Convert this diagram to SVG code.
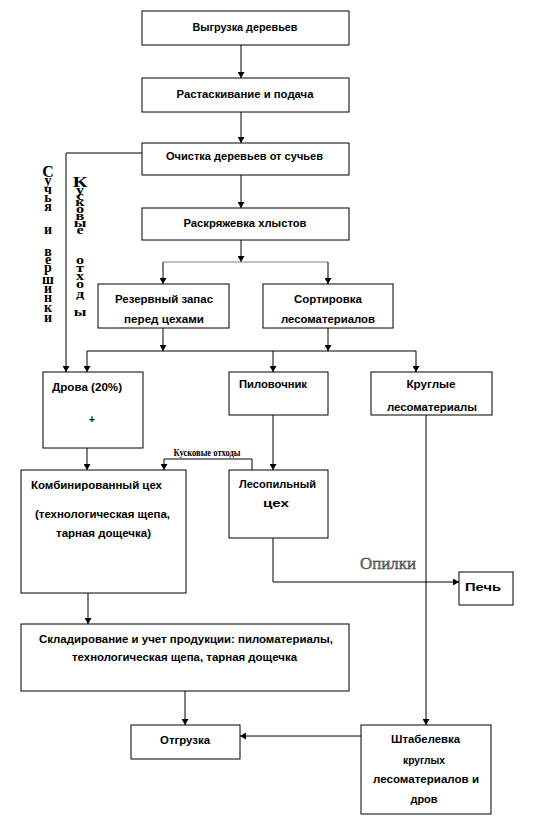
<svg xmlns="http://www.w3.org/2000/svg" width="536" height="820" viewBox="0 0 536 820">
<defs>
<marker id="arr" markerWidth="6" markerHeight="7" refX="6" refY="3.5" orient="auto" markerUnits="userSpaceOnUse">
<path d="M0,0 L6,3.5 L0,7 z" fill="#000"/>
</marker>
<style>
.box{fill:#fff;stroke:#000;stroke-width:1}
.t{font-family:"Liberation Sans",Arial,sans-serif;font-weight:bold;font-size:10px;fill:#000;text-anchor:middle}
.tl{font-family:"Liberation Sans",Arial,sans-serif;font-weight:bold;font-size:10px;fill:#000}
.ln{fill:none;stroke:#000;stroke-width:1}
.gr{fill:none;stroke:#808080;stroke-width:1.2}
.vt{font-family:"Liberation Serif","Times New Roman",serif;font-weight:bold;font-size:14px;fill:#000;text-anchor:middle}
.vk{font-family:"Liberation Serif","Times New Roman",serif;font-weight:bold;font-size:12px;fill:#000;text-anchor:middle}
</style>
</defs>
<rect width="536" height="820" fill="#fff"/>

<g id="connectors">
<path class="ln" d="M241,45 V78" marker-end="url(#arr)"/>
<path class="ln" d="M241,112 V143" marker-end="url(#arr)"/>
<path class="ln" d="M142,153 H66 V372" marker-end="url(#arr)"/>
<path class="ln" d="M241,175 V208" marker-end="url(#arr)"/>
<path class="ln" d="M241,240 V262" marker-end="url(#arr)"/>
<path class="gr" d="M163,262 H328"/>
<path class="ln" d="M163,262 V284" marker-end="url(#arr)"/>
<path class="ln" d="M328,262 V284" marker-end="url(#arr)"/>
<path class="ln" d="M163,328 V351" marker-end="url(#arr)"/>
<path class="ln" d="M328,328 V351" marker-end="url(#arr)"/>
<path class="ln" d="M87,351 H416"/>
<path class="ln" d="M87,351 V372" marker-end="url(#arr)"/>
<path class="ln" d="M273,351 V372" marker-end="url(#arr)"/>
<path class="ln" d="M416,351 V372" marker-end="url(#arr)"/>
<path class="ln" d="M87,448 V470" marker-end="url(#arr)"/>
<path class="ln" d="M252,470 V459 H164 V470" stroke="#333" marker-end="url(#arr)"/>
<text x="207" y="456" font-family="'Liberation Serif','Times New Roman',serif" font-weight="bold" font-size="10" text-anchor="middle" textLength="67" lengthAdjust="spacingAndGlyphs">Кусковые отходы</text>
<path class="ln" d="M273,415 V470" marker-end="url(#arr)"/>
<path class="ln" d="M426,415 V725" marker-end="url(#arr)"/>
<path class="ln" d="M273,538 V582 H459" stroke="#555" marker-end="url(#arr)"/>
<text x="388" y="569" font-family="'Liberation Serif','Times New Roman',serif" font-size="16" fill="#777" stroke="#333" stroke-width="0.4" text-anchor="middle" textLength="56" lengthAdjust="spacingAndGlyphs">Опилки</text>
<path class="ln" d="M88,593 V624" marker-end="url(#arr)"/>
<path class="ln" d="M185,691 V725" marker-end="url(#arr)"/>
<path class="ln" d="M361,736 H240" stroke="#444" marker-end="url(#arr)"/>
</g>

<g id="label-suchya">
<text class="vt"><tspan x="48" y="177" font-size="16">С</tspan><tspan x="48" y="185">у</tspan><tspan x="48" y="194">ч</tspan><tspan x="48" y="202">ь</tspan><tspan x="48" y="211">я</tspan><tspan x="48" y="234">и</tspan><tspan x="48" y="256">в</tspan><tspan x="48" y="264">е</tspan><tspan x="48" y="272">р</tspan><tspan x="48" y="284">ш</tspan><tspan x="48" y="293">и</tspan><tspan x="48" y="302">н</tspan><tspan x="48" y="312">к</tspan><tspan x="48" y="322">и</tspan></text>
</g>
<g id="label-kuskovye" transform="translate(80 0) scale(1.35 1) translate(-80 0)">
<text class="vk"><tspan x="80" y="187" font-size="15">К</tspan><tspan x="80" y="194">у</tspan><tspan x="80" y="200">с</tspan><tspan x="80" y="206">к</tspan><tspan x="80" y="213">о</tspan><tspan x="80" y="220">в</tspan><tspan x="80" y="227">ы</tspan><tspan x="80" y="234">е</tspan><tspan x="80" y="264">о</tspan><tspan x="80" y="272">т</tspan><tspan x="80" y="280">х</tspan><tspan x="80" y="288">о</tspan><tspan x="80" y="298">д</tspan><tspan x="80" y="316">ы</tspan></text>
</g>

<g id="n1"><rect class="box" x="142" y="11" width="207" height="34"/><text class="t" x="245" y="31" textLength="105" lengthAdjust="spacingAndGlyphs">Выгрузка деревьев</text></g>
<g id="n2"><rect class="box" x="142" y="78" width="207" height="34"/><text class="t" x="245" y="98" textLength="137" lengthAdjust="spacingAndGlyphs">Растаскивание и подача</text></g>
<g id="n3"><rect class="box" x="142" y="143" width="207" height="32"/><text class="t" x="244.5" y="160" textLength="157" lengthAdjust="spacingAndGlyphs">Очистка деревьев  от сучьев</text></g>
<g id="n4"><rect class="box" x="142" y="208" width="207" height="32"/><text class="t" x="245" y="227" textLength="123" lengthAdjust="spacingAndGlyphs">Раскряжевка хлыстов</text></g>
<g id="n5"><rect class="box" x="98" y="284" width="131" height="44"/><text class="t" x="164" y="303" textLength="98" lengthAdjust="spacingAndGlyphs">Резервный запас</text><text class="t" x="164" y="323" textLength="80" lengthAdjust="spacingAndGlyphs">перед цехами</text></g>
<g id="n6"><rect class="box" x="263" y="284" width="130" height="44"/><text class="t" x="328" y="303" textLength="68" lengthAdjust="spacingAndGlyphs">Сортировка</text><text class="t" x="328" y="323" textLength="94" lengthAdjust="spacingAndGlyphs">лесоматериалов</text></g>
<g id="n7"><rect class="box" x="43" y="372" width="100" height="76"/><text class="tl" x="52" y="391" textLength="70" lengthAdjust="spacingAndGlyphs">Дрова (20%)</text><text class="t" x="92" y="423">+</text></g>
<g id="n8"><rect class="box" x="229" y="372" width="99" height="43"/><text class="tl" x="239" y="388" textLength="68" lengthAdjust="spacingAndGlyphs">Пиловочник</text></g>
<g id="n9"><rect class="box" x="371" y="372" width="121" height="43"/><text class="t" x="431" y="388" textLength="49" lengthAdjust="spacingAndGlyphs">Круглые</text><text class="t" x="432" y="411" textLength="90" lengthAdjust="spacingAndGlyphs">лесоматериалы</text></g>
<g id="n10"><rect class="box" x="21" y="470" width="165" height="123"/><text class="tl" x="31" y="489" textLength="131" lengthAdjust="spacingAndGlyphs">Комбинированный цех</text><text class="tl" x="35" y="518" textLength="135" lengthAdjust="spacingAndGlyphs">(технологическая щепа,</text><text class="tl" x="56" y="537" textLength="95" lengthAdjust="spacingAndGlyphs">тарная дощечка)</text></g>
<g id="n11"><rect class="box" x="229" y="470" width="99" height="68"/><text class="t" x="277.5" y="488" textLength="77" lengthAdjust="spacingAndGlyphs">Лесопильный</text><text class="t" x="276" y="507" textLength="26" lengthAdjust="spacingAndGlyphs">цех</text></g>
<g id="n12"><rect class="box" x="459" y="572" width="54" height="33"/><text class="t" x="483" y="591" textLength="36" lengthAdjust="spacingAndGlyphs">Печь</text></g>
<g id="n13"><rect class="box" x="21" y="624" width="328" height="67"/><text class="t" x="186" y="643" textLength="294" lengthAdjust="spacingAndGlyphs">Складирование и учет продукции: пиломатериалы,</text><text class="t" x="184.5" y="661" textLength="225" lengthAdjust="spacingAndGlyphs">технологическая щепа, тарная дощечка</text></g>
<g id="n14"><rect class="box" x="131" y="725" width="109" height="34"/><text class="t" x="185" y="744" textLength="50" lengthAdjust="spacingAndGlyphs">Отгрузка</text></g>
<g id="n15"><rect class="box" x="361" y="725" width="130" height="89"/><text class="t" x="425.5" y="743" textLength="69" lengthAdjust="spacingAndGlyphs">Штабелевка</text><text class="t" x="424" y="764" textLength="42" lengthAdjust="spacingAndGlyphs">круглых</text><text class="t" x="426" y="783" textLength="106" lengthAdjust="spacingAndGlyphs">лесоматериалов и</text><text class="t" x="424" y="803" textLength="27" lengthAdjust="spacingAndGlyphs">дров</text></g>
</svg>
